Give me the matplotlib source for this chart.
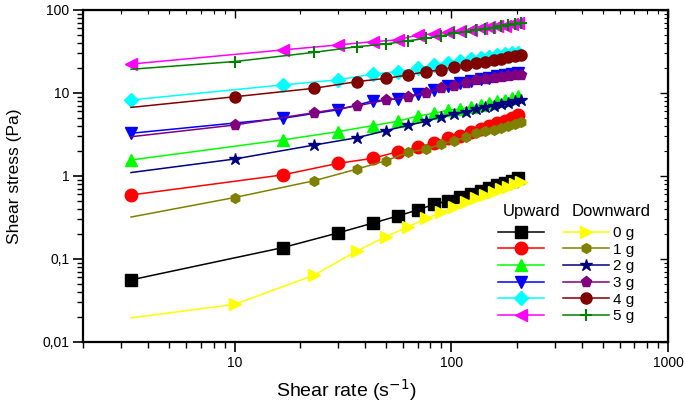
import matplotlib
matplotlib.use('Agg')
import matplotlib.pyplot as plt
from matplotlib.ticker import FixedLocator, FixedFormatter, LogLocator, NullFormatter

plt.rcParams['font.family'] = ['Liberation Sans', 'DejaVu Sans']

# shear rate (1/s)
up_x = [3.33, 16.67, 30, 43.33, 56.67, 70, 83.33, 96.67, 110, 123.33, 136.67, 150, 163.33, 176.67, 190, 203.33]
down_x = [3.33, 10, 23.33, 36.67, 50, 63.33, 76.67, 90, 103.33, 116.67, 130, 143.33, 156.67, 170, 183.33, 196.67, 210]

# shear stress (Pa), upward sweep
up_0g = [0.056, 0.137, 0.206, 0.27, 0.33, 0.39, 0.456, 0.50, 0.553, 0.60, 0.66, 0.71, 0.77, 0.82, 0.88, 0.94]
up_1g = [0.59, 1.03, 1.42, 1.63, 1.96, 2.22, 2.51, 2.89, 3.06, 3.42, 3.7, 3.95, 4.3, 4.6, 5.0, 5.5]
up_2g = [1.56, 2.72, 3.42, 4.04, 4.56, 5.28, 5.69, 6.2, 6.4, 6.8, 7.2, 7.6, 8.0, 8.3, 8.7, 9.1]
up_3g = [3.27, 4.95, 6.27, 8.0, 8.5, 9.7, 10.9, 12.1, 13.1, 14.0, 14.6, 15.2, 15.8, 16.4, 16.9, 17.4]
up_4g = [8.24, 12.5, 14.4, 16.9, 18.1, 19.8, 21.7, 23.2, 24.5, 25.6, 26.6, 27.5, 28.4, 29.2, 30.0, 30.7]
up_5g = [22.3, 33, 37.9, 41.5, 43.6, 50, 51.4, 54, 56, 58, 60, 62, 63.5, 65, 67, 69]

# shear stress (Pa), downward sweep
down_0g = [0.0195, 0.0284, 0.064, 0.125, 0.186, 0.245, 0.309, 0.365, 0.427, 0.49, 0.54, 0.59, 0.64, 0.69, 0.74, 0.80, 0.85]
down_1g = [0.32, 0.55, 0.877, 1.21, 1.53, 1.93, 2.11, 2.41, 2.66, 2.92, 3.3, 3.48, 3.6, 3.8, 4.0, 4.25, 4.5]
down_2g = [1.1, 1.6, 2.36, 2.89, 3.52, 4.08, 4.56, 5.19, 5.58, 5.9, 6.4, 6.7, 7.0, 7.3, 7.6, 7.9, 8.2]
down_3g = [2.97, 4.11, 5.8, 6.97, 8.24, 8.88, 10.1, 11.4, 12.1, 13.3, 14.4, 14.8, 15.2, 15.6, 16.0, 16.3, 16.6]
down_4g = [6.7, 9.0, 11.4, 13.7, 15.0, 16.5, 18.1, 18.9, 20.7, 21.7, 23.2, 23.8, 24.9, 25.8, 26.8, 27.9, 28.9]
down_5g = [19.3, 23.9, 30.9, 36.1, 38.9, 42.6, 45.5, 49, 52.4, 54.8, 57.4, 59.5, 61.5, 63.5, 65.5, 67.5, 69.5]

labels = ['0 g', '1 g', '2 g', '3 g', '4 g', '5 g']
y_ticks = [0.01, 0.1, 1, 10, 100]
y_ticklabels = ['0,01', '0,1', '1', '10', '100']
x_ticks = [10, 100, 1000]
x_ticklabels = ['10', '100', '1000']

up_series = [up_0g, up_1g, up_2g, up_3g, up_4g, up_5g]
down_series = [down_0g, down_1g, down_2g, down_3g, down_4g, down_5g]
up_colors = ['#000000', '#ff0000', '#00ff00', '#0000ff', '#00ffff', '#ff00ff']
up_markers = ['s', 'o', '^', 'v', 'D', '<']
up_ms = [8, 9, 9, 9, 7, 9]
down_colors = ['#ffff00', '#808000', '#000080', '#800080', '#800000', '#008000']
down_markers = ['>', 'h', '*', 'p', 'o', '+']
down_ms = [9, 7, 9, 8, 8, 9]

fig = plt.figure(figsize=(6.85, 4.04), dpi=100)
ax = fig.add_axes([0.1212, 0.1535, 0.854, 0.8218])

up_lines = []
for ys, c, m, ms in zip(up_series, up_colors, up_markers, up_ms):
    line, = ax.plot(up_x, ys, color=c, marker=m, markersize=ms, linewidth=1.1,
                    markeredgecolor=c, markerfacecolor=c)
    up_lines.append(line)

down_lines = []
for ys, c, m, ms in zip(down_series, down_colors, down_markers, down_ms):
    line, = ax.plot(down_x, ys, color=c, marker=m, markersize=ms, linewidth=1.1,
                    markeredgecolor=c, markerfacecolor=c, markevery=list(range(1, len(down_x))),
                    markeredgewidth=1.5 if m == '+' else 1.0)
    down_lines.append(line)

ax.set_xscale('log')
ax.set_yscale('log')
ax.set_xlim(2, 1000)
ax.set_ylim(0.01, 100)

ax.yaxis.set_major_locator(FixedLocator(y_ticks))
ax.yaxis.set_major_formatter(FixedFormatter(y_ticklabels))
ax.yaxis.set_minor_locator(LogLocator(base=10, subs=range(2, 10)))
ax.yaxis.set_minor_formatter(NullFormatter())
ax.xaxis.set_major_locator(FixedLocator(x_ticks))
ax.xaxis.set_major_formatter(FixedFormatter(x_ticklabels))
ax.xaxis.set_minor_locator(LogLocator(base=10, subs=range(2, 10)))
ax.xaxis.set_minor_formatter(NullFormatter())

ax.tick_params(which='major', direction='out', length=7, width=1.2, labelsize=10, pad=3)
ax.tick_params(which='minor', direction='out', length=4, width=1.0)
for s in ax.spines.values():
    s.set_linewidth(1.6)

# inward ticks on top and right
top = ax.secondary_xaxis('top')
top.set_xscale('log')
top.xaxis.set_major_locator(FixedLocator(x_ticks))
top.xaxis.set_minor_locator(LogLocator(base=10, subs=range(2, 10)))
top.tick_params(which='both', direction='in', labeltop=False)
top.tick_params(which='major', length=6, width=1.0)
top.tick_params(which='minor', length=3, width=0.8)
right = ax.secondary_yaxis('right')
right.set_yscale('log')
right.yaxis.set_major_locator(FixedLocator(y_ticks))
right.yaxis.set_minor_locator(LogLocator(base=10, subs=range(2, 10)))
right.tick_params(which='both', direction='in', labelright=False)
right.tick_params(which='major', length=6, width=1.0)
right.tick_params(which='minor', length=3, width=0.8)

ax.set_ylabel('Shear stress (Pa)', fontsize=12.5)
ax.yaxis.set_label_coords(-0.105, 0.5)
ax.set_xlabel('Shear rate (s$^{-1}$)', fontsize=14)
ax.xaxis.set_label_coords(0.45, -0.105)

ax.legend(up_lines + down_lines, [''] * 6 + labels, ncol=2, frameon=False,
          loc='upper left', bbox_to_anchor=(0.696, 0.372), borderpad=0,
          fontsize=11, handlelength=3.0, handletextpad=0.3, columnspacing=0.95,
          labelspacing=0.17)
ax.text(0.766, 0.392, 'Upward', transform=ax.transAxes, ha='center', va='center', fontsize=12)
ax.text(0.902, 0.392, 'Downward', transform=ax.transAxes, ha='center', va='center', fontsize=12)

fig.savefig('out.png', dpi=100)
